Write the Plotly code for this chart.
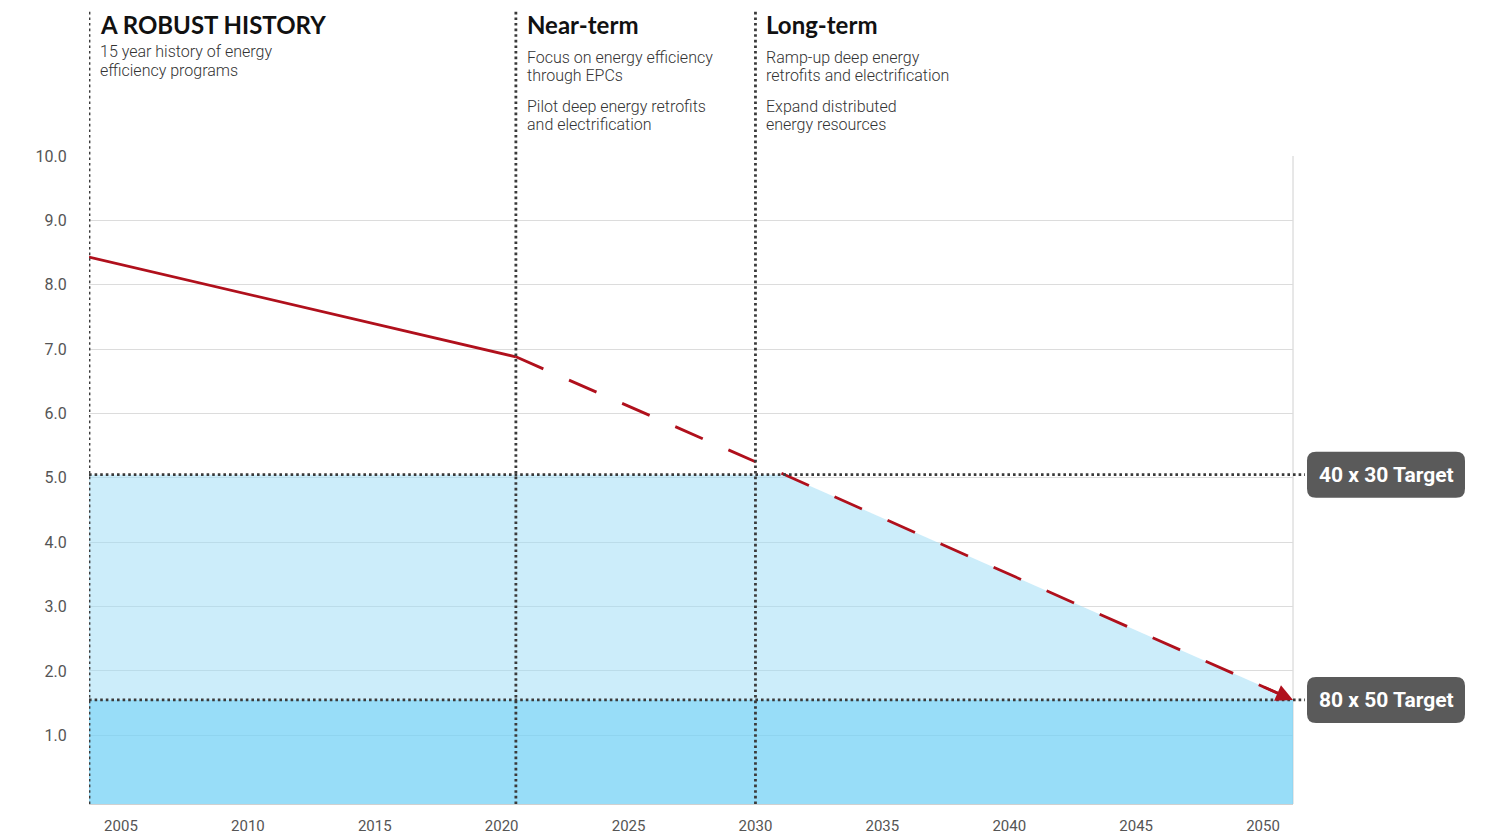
import plotly.graph_objects as go

# ---- data ----
history_years = [2003.74, 2020.56]
history_values = [8.43, 6.88]
projection_years = [2020.56, 2030.0, 2051.18]
projection_values = [6.88, 5.25, 1.55]
target_40x30 = 5.05
target_80x50 = 1.55
phase_lines = [2003.74, 2020.56, 2030.0]
x_tick_vals = [2005, 2010, 2015, 2020, 2025, 2030, 2035, 2040, 2045, 2050]
y_tick_vals = [1, 2, 3, 4, 5, 6, 7, 8, 9, 10]
target_labels = ["40 x 30 Target", "80 x 50 Target"]
phase_titles = ["A ROBUST HISTORY", "Near-term", "Long-term"]
phase_texts = [
    [["15 year history of energy", "efficiency programs"]],
    [["Focus on energy efficiency", "through EPCs"], ["Pilot deep energy retrofits", "and electrification"]],
    [["Ramp-up deep energy", "retrofits and electrification"], ["Expand distributed", "energy resources"]],
]

X_MIN, X_MAX = 2003.74, 2051.18
Y_MIN, Y_MAX = -0.067, 10.0

W, H = 1486, 834
ML, MR, MT, MB = 89, 193, 156, 30
PW, PH = W - ML - MR, H - MT - MB


def py(px):
    return (H - MB - px) / PH


def pxp(px):
    return (px - ML) / PW


def interp(x, xs, ys):
    for i in range(len(xs) - 1):
        if xs[i] <= x <= xs[i + 1]:
            t = (x - xs[i]) / (xs[i + 1] - xs[i])
            return ys[i] + t * (ys[i + 1] - ys[i])
    return ys[-1]


# crossing of projection with 40x30 target
x_cross = None
for i in range(len(projection_years) - 1):
    y0, y1 = projection_values[i], projection_values[i + 1]
    if (y0 - target_40x30) * (y1 - target_40x30) <= 0 and y0 != y1:
        t = (target_40x30 - y0) / (y1 - y0)
        x_cross = projection_years[i] + t * (projection_years[i + 1] - projection_years[i])
        break

light_x = [X_MIN, X_MIN, x_cross] + [x for x in projection_years if x > x_cross] + [X_MIN]
light_y = [target_80x50, target_40x30, target_40x30] + [v for x, v in zip(projection_years, projection_values) if x > x_cross] + [target_80x50]

fig = go.Figure()

fig.add_trace(go.Scatter(
    x=[X_MIN, X_MAX, X_MAX, X_MIN, X_MIN], y=[Y_MIN, Y_MIN, target_80x50, target_80x50, Y_MIN],
    fill="toself", fillcolor="rgba(118,210,245,0.75)", line=dict(width=0),
    mode="lines", hoverinfo="skip", showlegend=False))
fig.add_trace(go.Scatter(
    x=light_x, y=light_y,
    fill="toself", fillcolor="rgba(153,220,246,0.5)", line=dict(width=0),
    mode="lines", hoverinfo="skip", showlegend=False))

fig.add_trace(go.Scatter(
    x=history_years, y=history_values, mode="lines",
    line=dict(color="#B0101C", width=2.8), hoverinfo="skip", showlegend=False))
fig.add_trace(go.Scatter(
    x=projection_years, y=projection_values, mode="lines",
    line=dict(color="#B0101C", width=2.8, dash="30px,28px"), hoverinfo="skip", showlegend=False))

# arrow head at the end of projection
ax_x = X_MAX - 1.2
fig.add_annotation(
    x=X_MAX, y=projection_values[-1], ax=ax_x, ay=interp(ax_x, projection_years, projection_values),
    xref="x", yref="y", axref="x", ayref="y", showarrow=True, arrowhead=2,
    arrowsize=1.3, arrowwidth=2.6, arrowcolor="#B0101C", standoff=0, text="")

dot_style = dict(color="#3A3A3A", width=2.8, dash="2.6px,3px")

# vertical phase lines
for xv in phase_lines:
    fig.add_shape(type="line", xref="x", yref="paper", x0=xv, x1=xv, y0=0, y1=py(9),
                  line=dot_style, layer="above")

# horizontal target lines and labels
box_left = 1307
box_w, box_h, r = 158, 46, 9
for val, label in zip([target_40x30, target_80x50], target_labels):
    fig.add_shape(type="line", xref="paper", yref="y", x0=0, x1=pxp(box_left - 2), y0=val, y1=val,
                  line=dot_style, layer="above")
    x0, x1 = 0, box_w
    y0, y1 = -box_h / 2, box_h / 2
    path = (f"M {x0 + r},{y0} L {x1 - r},{y0} Q {x1},{y0} {x1},{y0 + r} "
            f"L {x1},{y1 - r} Q {x1},{y1} {x1 - r},{y1} L {x0 + r},{y1} "
            f"Q {x0},{y1} {x0},{y1 - r} L {x0},{y0 + r} Q {x0},{y0} {x0 + r},{y0} Z")
    fig.add_shape(type="path", xref="paper", yref="y", xsizemode="pixel", ysizemode="pixel",
                  xanchor=pxp(box_left), yanchor=val, path=path,
                  fillcolor="#5A5A5A", line=dict(width=0), layer="above")
    fig.add_annotation(xref="paper", yref="y", x=pxp(box_left + box_w / 2), y=val,
                       text=label, showarrow=False, xanchor="center", yanchor="middle",
                       font=dict(family="Roboto", size=21, color="white", weight="bold"))

# phase text
title_font = dict(family="Lato", size=24, color="#111111", weight="bold")
sub_font = dict(family="Roboto", size=16, color="#333333", weight=300)
para_first_line = [[52], [57, 106], [57, 106]]
LINE_GAP = 19
for i, xv in enumerate(phase_lines):
    fig.add_annotation(xref="x", yref="paper", x=xv, y=py(24), xshift=9, text=phase_titles[i],
                       showarrow=False, xanchor="left", yanchor="middle", font=title_font)
    for para, c in zip(phase_texts[i], para_first_line[i]):
        for k, line in enumerate(para):
            fig.add_annotation(xref="x", yref="paper", x=xv, y=py(c + k * LINE_GAP), xshift=9,
                               text=line, align="left", showarrow=False,
                               xanchor="left", yanchor="middle", font=sub_font)

fig.update_layout(
    width=W, height=H,
    margin=dict(l=ML, r=MR, t=MT, b=MB, autoexpand=False),
    paper_bgcolor="white", plot_bgcolor="white",
    xaxis=dict(range=[X_MIN, X_MAX], tickvals=x_tick_vals, ticktext=[str(v) for v in x_tick_vals],
               showgrid=False, zeroline=False, showline=True, linecolor="#D0D0D0", linewidth=1,
               mirror=False, ticks="outside", ticklen=8, tickcolor="rgba(0,0,0,0)", automargin=False,
               tickfont=dict(family="Roboto", size=15, color="#555555")),
    yaxis=dict(range=[Y_MIN, Y_MAX], tickvals=y_tick_vals, tickformat=".1f", automargin=False,
               showgrid=True, gridcolor="#DCDCDC", gridwidth=1, zeroline=False,
               showline=False, ticks="outside", ticklen=18, tickcolor="rgba(0,0,0,0)",
               tickfont=dict(family="Roboto", size=16, color="#555555")),
    showlegend=False,
)

# right border line
fig.add_shape(type="line", xref="paper", yref="paper", x0=1, x1=1, y0=0, y1=1,
              line=dict(color="#D0D0D0", width=1), layer="below")

fig.write_html(
    "out.html",
    config={"displayModeBar": False},
    post_script="document.body.style.margin='0';document.body.style.padding='0';"
                "document.documentElement.style.overflow='hidden';",
)
